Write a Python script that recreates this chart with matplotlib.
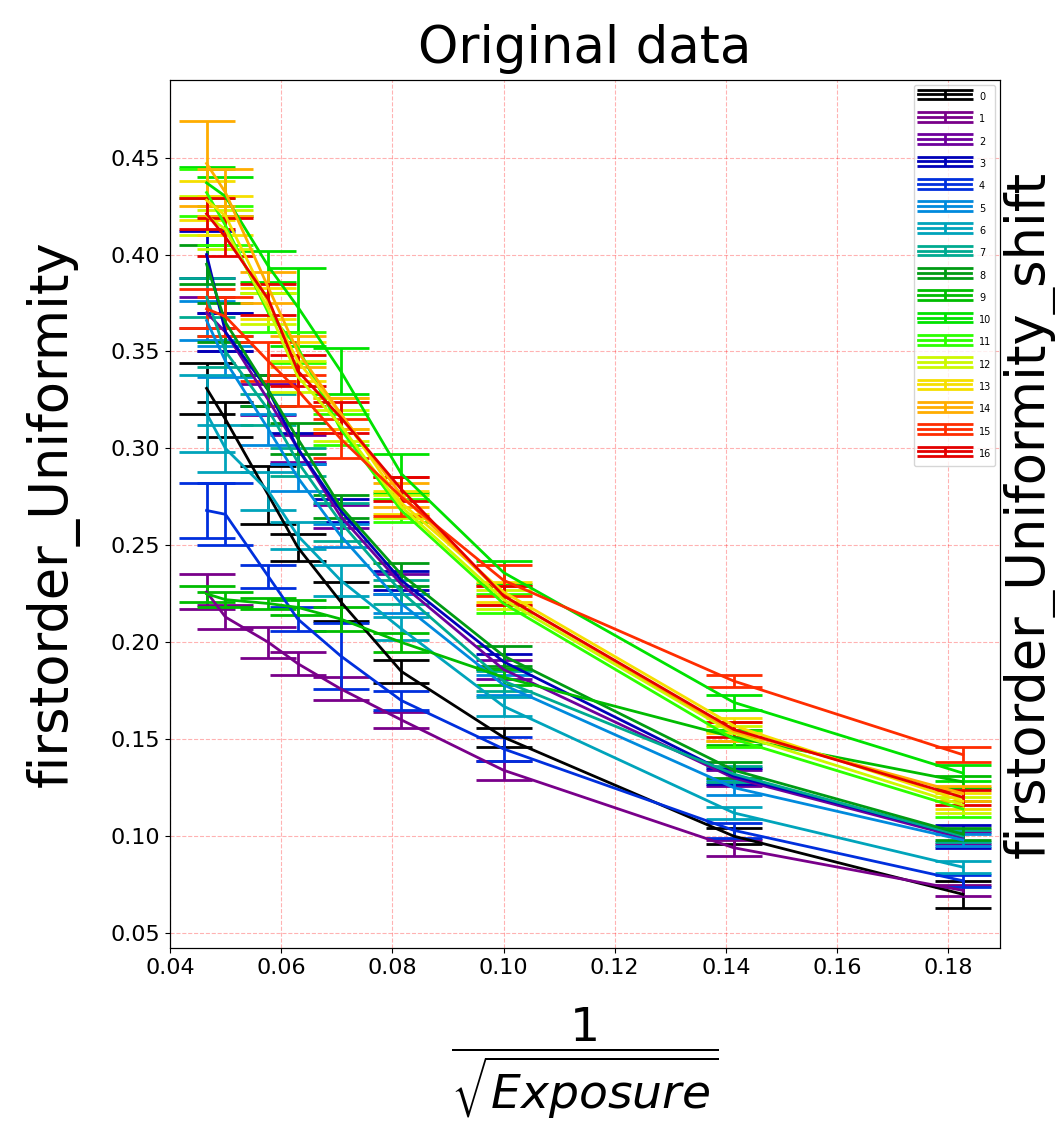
import numpy as np
import matplotlib.pyplot as plt

# 1/sqrt(Exposure) positions
x = [0.0466, 0.0500, 0.0577, 0.0630, 0.0707, 0.0816, 0.1000, 0.1414, 0.1826]

y0 = [0.331, 0.315, 0.276, 0.249, 0.221, 0.185, 0.151, 0.100, 0.070]
e0 = [0.013, 0.009, 0.015, 0.007, 0.010, 0.006, 0.005, 0.004, 0.007]
y1 = [0.226, 0.213, 0.200, 0.189, 0.176, 0.160, 0.134, 0.094, 0.072]
e1 = [0.009, 0.006, 0.008, 0.006, 0.006, 0.004, 0.005, 0.004, 0.003]
y2 = [0.370, 0.360, 0.325, 0.300, 0.265, 0.230, 0.186, 0.130, 0.099]
e2 = [0.008, 0.010, 0.008, 0.007, 0.006, 0.005, 0.005, 0.004, 0.003]
y3 = [0.400, 0.360, 0.330, 0.300, 0.268, 0.232, 0.190, 0.131, 0.100]
e3 = [0.012, 0.010, 0.008, 0.008, 0.006, 0.005, 0.004, 0.004, 0.006]
y4 = [0.268, 0.266, 0.234, 0.212, 0.193, 0.170, 0.145, 0.103, 0.077]
e4 = [0.014, 0.016, 0.006, 0.006, 0.017, 0.005, 0.006, 0.004, 0.003]
y5 = [0.366, 0.345, 0.310, 0.285, 0.255, 0.220, 0.178, 0.125, 0.098]
e5 = [0.010, 0.008, 0.008, 0.007, 0.006, 0.005, 0.005, 0.004, 0.003]
y6 = [0.318, 0.300, 0.278, 0.255, 0.232, 0.207, 0.167, 0.112, 0.084]
e6 = [0.020, 0.012, 0.010, 0.007, 0.008, 0.006, 0.005, 0.003, 0.003]
y7 = [0.378, 0.350, 0.320, 0.293, 0.262, 0.226, 0.180, 0.132, 0.100]
e7 = [0.010, 0.008, 0.008, 0.007, 0.010, 0.006, 0.005, 0.004, 0.003]
y8 = [0.395, 0.365, 0.330, 0.305, 0.270, 0.235, 0.193, 0.134, 0.101]
e8 = [0.010, 0.010, 0.008, 0.008, 0.006, 0.006, 0.005, 0.004, 0.003]
y9 = [0.225, 0.222, 0.220, 0.218, 0.212, 0.200, 0.182, 0.151, 0.128]
e9 = [0.004, 0.004, 0.003, 0.004, 0.006, 0.005, 0.004, 0.004, 0.003]
y10 = [0.437, 0.430, 0.394, 0.373, 0.340, 0.287, 0.236, 0.169, 0.1325]
e10 = [0.008, 0.010, 0.008, 0.020, 0.012, 0.010, 0.006, 0.004, 0.004]
y11 = [0.432, 0.415, 0.370, 0.352, 0.310, 0.268, 0.220, 0.150, 0.114]
e11 = [0.012, 0.010, 0.010, 0.008, 0.008, 0.006, 0.005, 0.004, 0.004]
y12 = [0.420, 0.413, 0.372, 0.337, 0.312, 0.270, 0.222, 0.153, 0.116]
e12 = [0.010, 0.010, 0.008, 0.008, 0.008, 0.006, 0.005, 0.004, 0.004]
y13 = [0.428, 0.420, 0.375, 0.345, 0.318, 0.272, 0.226, 0.157, 0.118]
e13 = [0.010, 0.010, 0.008, 0.010, 0.008, 0.006, 0.005, 0.004, 0.004]
y14 = [0.447, 0.432, 0.383, 0.350, 0.318, 0.276, 0.224, 0.154, 0.122]
e14 = [0.022, 0.012, 0.008, 0.008, 0.008, 0.006, 0.005, 0.005, 0.004]
y15 = [0.372, 0.368, 0.345, 0.330, 0.305, 0.275, 0.232, 0.180, 0.142]
e15 = [0.010, 0.010, 0.010, 0.008, 0.010, 0.010, 0.008, 0.003, 0.004]
y16 = [0.421, 0.409, 0.377, 0.340, 0.316, 0.279, 0.224, 0.155, 0.120]
e16 = [0.008, 0.010, 0.008, 0.008, 0.008, 0.006, 0.005, 0.004, 0.004]

ys = [y0, y1, y2, y3, y4, y5, y6, y7, y8, y9, y10, y11, y12, y13, y14, y15, y16]
es = [e0, e1, e2, e3, e4, e5, e6, e7, e8, e9, e10, e11, e12, e13, e14, e15, e16]

fig = plt.figure(figsize=(10.55, 11.36), dpi=100)
ax = fig.add_axes([0.161, 0.1655, 0.787, 0.764])

for i in range(len(ys)):
    c = plt.cm.nipy_spectral(i / 18)
    ax.errorbar(x, ys[i], yerr=es[i], color=c, capsize=20, lw=2, elinewidth=2,
                capthick=2, label=str(i))

ax.set_xlim(0.04, 0.1893)
ax.set_ylim(0.0423, 0.490)
ax.set_xticks(np.arange(0.04, 0.19, 0.02))
ax.set_yticks(np.arange(0.05, 0.46, 0.05))
ax.tick_params(labelsize=16)
ax.grid(color='r', linestyle='--', alpha=0.3)

ax.set_title('Original data', fontsize=37, pad=12)
ax.set_xlabel(r'$\dfrac{1}{\sqrt{Exposure}}$', fontsize=34, labelpad=20)
ax.set_ylabel('firstorder_Uniformity', fontsize=38, labelpad=22)

ax2 = ax.twinx()
ax2.set_yticks([])
ax2.set_ylabel('firstorder_Uniformity_shift', fontsize=38, labelpad=2)

ax.legend(loc='upper right', fontsize=7, handleheight=2.2, labelspacing=0.62,
          handlelength=5.5, borderaxespad=0.5)

fig.savefig('out.png', dpi=100)
